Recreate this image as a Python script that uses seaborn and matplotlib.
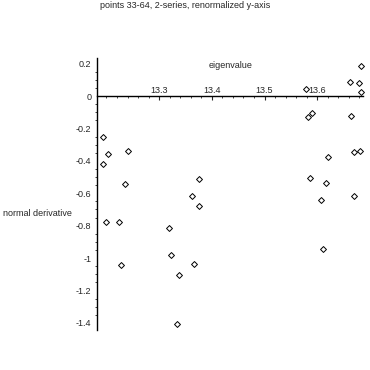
import numpy as np
import pandas as pd
import seaborn as sns
import matplotlib
matplotlib.use("Agg")
import matplotlib.pyplot as plt
from matplotlib.ticker import MultipleLocator

# valores (pontos 33-64)
eigenvalue = [13.194, 13.240, 13.202, 13.194, 13.235, 13.200, 13.223, 13.318,
              13.322, 13.227, 13.337, 13.333, 13.583, 13.591, 13.665, 13.620,
              13.670, 13.682, 13.376, 13.587, 13.617, 13.363, 13.375, 13.608,
              13.669, 13.612, 13.367, 13.683, 13.662, 13.680, 13.683, 13.579]
normal_derivative = [-0.255, -0.340, -0.358, -0.420, -0.545, -0.780, -0.780, -0.817,
                     -0.983, -1.045, -1.105, -1.407, -0.128, -0.107, -0.123, -0.378,
                     -0.348, -0.341, -0.514, -0.508, -0.539, -0.619, -0.681, -0.644,
                     -0.619, -0.946, -1.039, 0.187, 0.086, 0.078, 0.027, 0.041]

x_ticks = [13.3, 13.4, 13.5, 13.6]
y_ticks = [0.2, 0, -0.2, -0.4, -0.6, -0.8, -1, -1.2, -1.4]
y_tick_labels = ["0.2", "0", "-0.2", "-0.4", "-0.6", "-0.8", "-1", "-1.2", "-1.4"]

def main():
    sns.set_style("white")
    plt.rcParams['font.family'] = ['Liberation Sans', 'DejaVu Sans']

    df = pd.DataFrame({"eigenvalue": eigenvalue, "normal derivative": normal_derivative})

    fig = plt.figure(figsize=(3.7, 3.7), dpi=100)
    ax = fig.add_axes([97 / 370, 1 - 330 / 370, (363 - 97) / 370, (330 - 58) / 370])

    sns.scatterplot(data=df, x="eigenvalue", y="normal derivative", ax=ax,
                    marker="D", s=9, color="white", edgecolor="black",
                    linewidth=0.7, zorder=3, clip_on=False)

    ax.set_xlim(13.182, 13.687)
    ax.set_ylim(-1.444, 0.235)

    # eixos cruzando em y=0, rótulos de x acima da linha
    ax.spines['top'].set_position(('data', 0))
    ax.spines['bottom'].set_visible(False)
    ax.spines['right'].set_visible(False)
    for s in ['top', 'left']:
        ax.spines[s].set_linewidth(1.0)
        ax.spines[s].set_color("black")
    ax.xaxis.tick_top()
    ax.set_xticks(x_ticks)
    ax.set_xticklabels([str(t) for t in x_ticks])
    ax.xaxis.set_minor_locator(MultipleLocator(0.02))
    ax.set_yticks(y_ticks)
    ax.set_yticklabels(y_tick_labels)
    ax.yaxis.set_minor_locator(MultipleLocator(0.05))
    ax.tick_params(axis='x', which='major', direction='in', length=3, width=0.8, pad=1, labelsize=6.5)
    ax.tick_params(axis='x', which='minor', direction='in', length=1.5, width=0.6)
    ax.tick_params(axis='y', which='major', direction='out', length=3, width=0.8, pad=1, labelsize=6.5)
    ax.tick_params(axis='y', which='minor', direction='out', length=1.5, width=0.6, left=True)
    ax.set_xlabel("")
    ax.set_ylabel("")

    fig.text(231 / 370, 1 - 65 / 370, "eigenvalue", ha="center", va="center", fontsize=6.5)
    fig.text(3 / 370, 1 - 213 / 370, "normal derivative", ha="left", va="center", fontsize=6.5)
    fig.text(185 / 370, 1 - 6 / 370, "points 33-64, 2-series, renormalized y-axis",
             ha="center", va="center", fontsize=6.5)

    fig.savefig("out.png", dpi=100)

main()
